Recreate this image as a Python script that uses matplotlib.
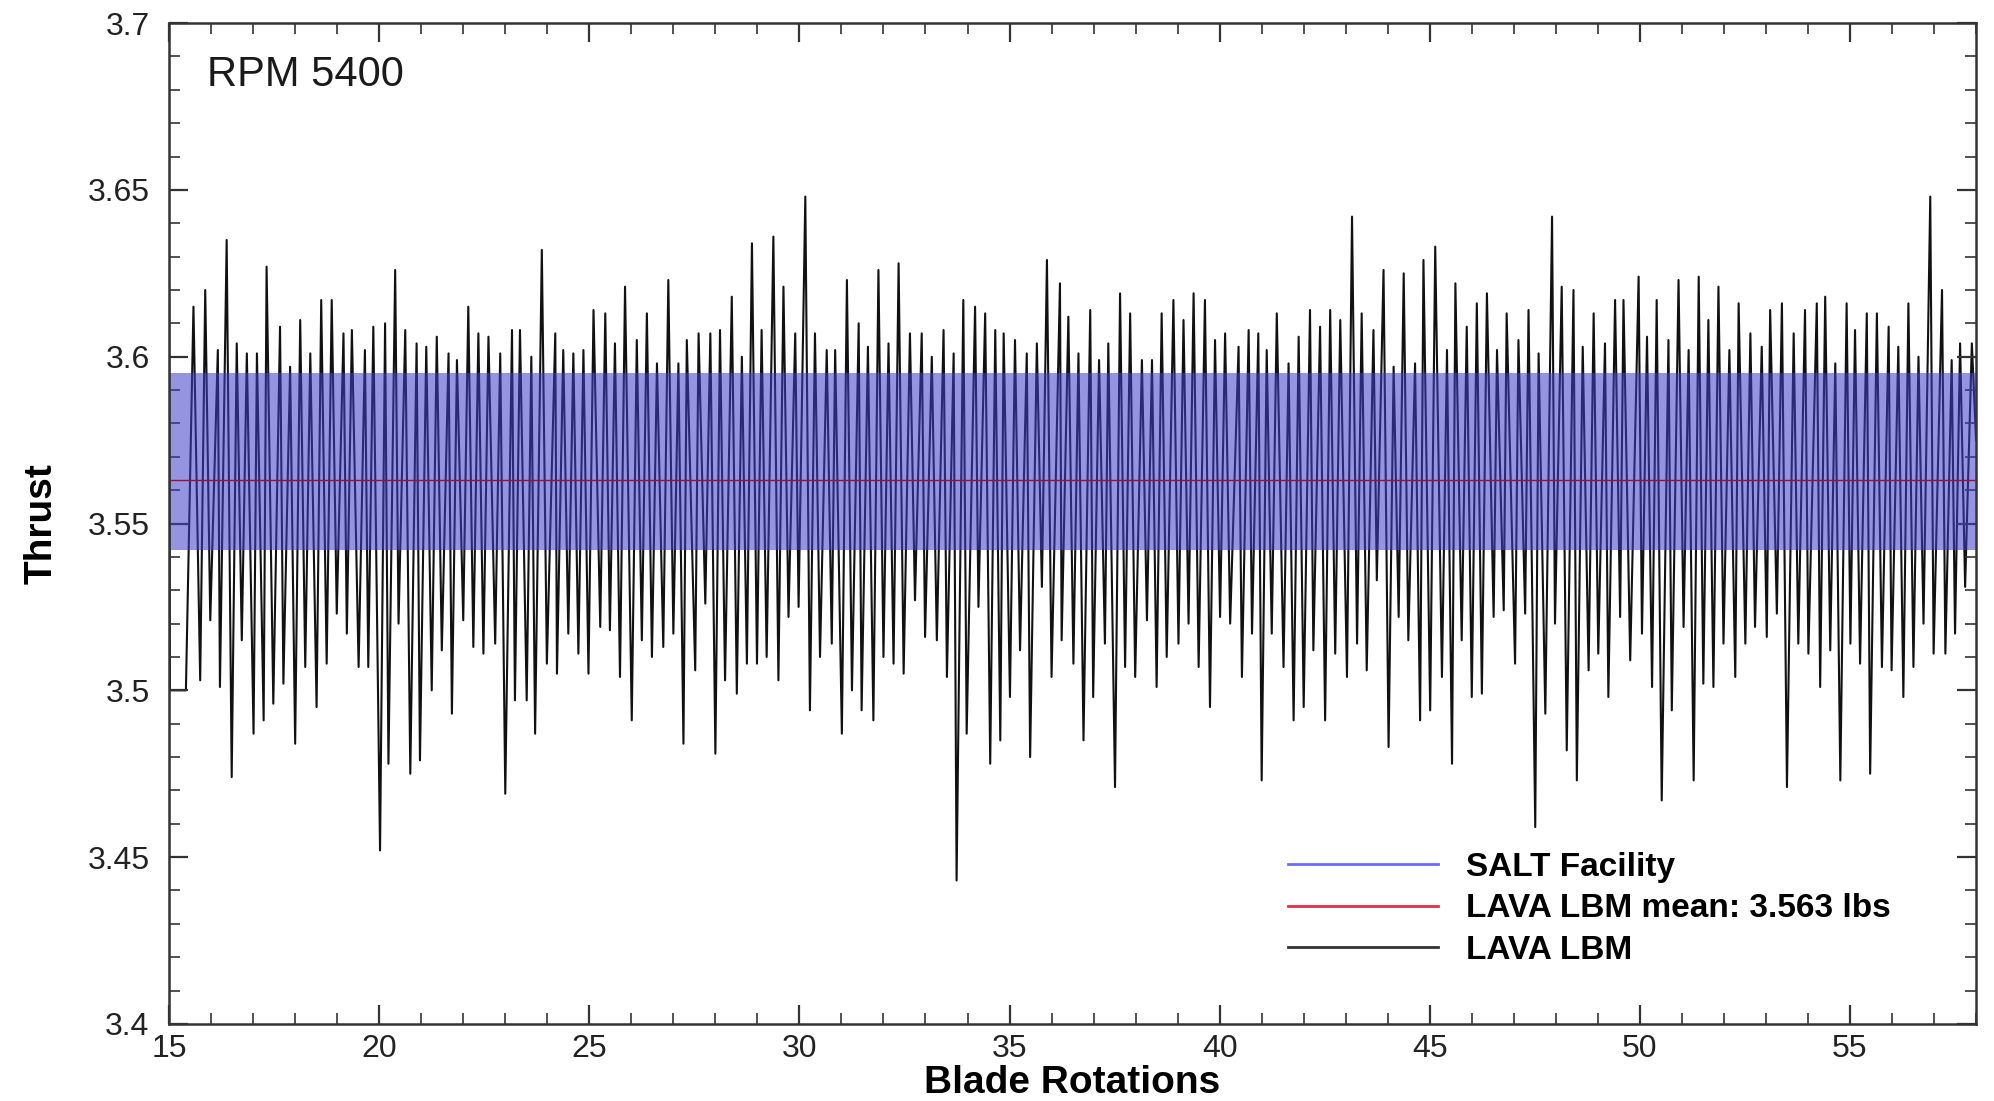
import numpy as np
import matplotlib
matplotlib.use('Agg')
import matplotlib.pyplot as plt
from matplotlib.lines import Line2D
from matplotlib.ticker import MultipleLocator, FormatStrFormatter

plt.rcParams['font.family'] = ['Liberation Sans', 'DejaVu Sans']

start_rot = [15.0, 15.02, 15.40]
start_thrust = [3.621, 3.500, 3.500]

peak_rot = [
    15.58, 15.86, 16.16, 16.37, 16.61, 16.85, 17.09, 17.32, 17.64, 17.88,
    18.12, 18.36, 18.62, 18.87, 19.15, 19.35, 19.66, 19.86, 20.14, 20.38,
    20.62, 20.89, 21.12, 21.37, 21.65, 21.85, 22.12, 22.36, 22.60, 22.88,
    23.16, 23.35, 23.62,
    23.87, 24.19, 24.38, 24.62, 24.86, 25.10, 25.38, 25.61, 25.85, 26.13, 26.37,
    26.61, 26.88, 27.12, 27.32, 27.60, 27.88, 28.11, 28.39, 28.63, 28.87,
    29.10, 29.38, 29.62, 29.90, 30.14, 30.37, 30.65, 30.85, 31.13, 31.41,
    31.63, 31.88, 32.12, 32.36,
    32.63, 32.91, 33.15, 33.43, 33.67, 33.90, 34.18, 34.42, 34.66, 34.86,
    35.13, 35.41, 35.65, 35.89, 36.20, 36.40, 36.64, 36.92, 37.13, 37.35,
    37.63, 37.87, 38.15, 38.39, 38.62, 38.90, 39.14, 39.38, 39.65, 39.89,
    40.13, 40.45, 40.69, 40.92,
    41.12, 41.36, 41.64, 41.88, 42.15, 42.39, 42.63, 42.87, 43.15, 43.38,
    43.66, 43.90, 44.14, 44.38, 44.65, 44.85, 45.13, 45.41, 45.61, 45.88,
    46.12, 46.36, 46.60, 46.83, 47.11, 47.35, 47.59, 47.91, 48.14, 48.42,
    48.64, 48.90, 49.17, 49.41, 49.61,
    49.97, 50.17, 50.40, 50.68, 50.92, 51.16, 51.40, 51.63, 51.87, 52.13,
    52.35, 52.63, 52.90, 53.10, 53.38, 53.66, 53.93, 54.21, 54.41, 54.65,
    54.92, 55.12, 55.40, 55.64, 55.92, 56.15, 56.39, 56.63, 56.91, 57.19,
    57.42, 57.62, 57.90,
]
peak_thrust = [
    3.615, 3.620, 3.602, 3.635, 3.604, 3.601, 3.601, 3.627, 3.609, 3.597,
    3.611, 3.601, 3.617, 3.617, 3.607, 3.608, 3.602, 3.609, 3.610, 3.626,
    3.608, 3.604, 3.603, 3.606, 3.601, 3.599, 3.615, 3.607, 3.606, 3.601,
    3.608, 3.608, 3.600,
    3.632, 3.607, 3.602, 3.601, 3.602, 3.614, 3.613, 3.604, 3.621, 3.605, 3.613,
    3.598, 3.623, 3.598, 3.605, 3.607, 3.607, 3.608, 3.618, 3.600, 3.634,
    3.608, 3.636, 3.621, 3.607, 3.648, 3.607, 3.602, 3.602, 3.623, 3.610,
    3.603, 3.626, 3.604, 3.628,
    3.607, 3.607, 3.600, 3.608, 3.601, 3.617, 3.615, 3.613, 3.608, 3.607,
    3.605, 3.601, 3.604, 3.629, 3.622, 3.612, 3.601, 3.614, 3.599, 3.604,
    3.619, 3.613, 3.599, 3.599, 3.613, 3.617, 3.611, 3.619, 3.617, 3.605,
    3.607, 3.603, 3.608, 3.607,
    3.602, 3.613, 3.598, 3.606, 3.614, 3.609, 3.614, 3.611, 3.642, 3.613,
    3.608, 3.626, 3.597, 3.625, 3.598, 3.629, 3.633, 3.602, 3.622, 3.609,
    3.616, 3.619, 3.602, 3.613, 3.605, 3.614, 3.601, 3.642, 3.621, 3.620,
    3.603, 3.613, 3.604, 3.617, 3.617,
    3.624, 3.606, 3.617, 3.605, 3.623, 3.602, 3.624, 3.611, 3.621, 3.602,
    3.616, 3.607, 3.603, 3.614, 3.616, 3.607, 3.614, 3.616, 3.618, 3.598,
    3.616, 3.608, 3.613, 3.613, 3.609, 3.603, 3.616, 3.600, 3.648, 3.620,
    3.599, 3.604, 3.604,
]

trough_rot = [
    15.74, 15.98, 16.21, 16.49, 16.73, 17.01, 17.25, 17.48, 17.72,
    18.00, 18.24, 18.51, 18.75, 18.99, 19.23, 19.51, 19.74, 20.02, 20.22,
    20.46, 20.74, 20.97, 21.25, 21.49, 21.73, 22.00, 22.24, 22.48, 22.76,
    23.00, 23.23, 23.51,
    23.71, 23.99, 24.23, 24.50, 24.74, 24.98, 25.26, 25.49, 25.73, 26.01,
    26.25, 26.49, 26.76, 27.00, 27.24, 27.52, 27.76, 28.00, 28.23, 28.51,
    28.75, 28.99, 29.22, 29.50, 29.74, 29.98, 30.25, 30.49, 30.77, 31.01,
    31.25, 31.48, 31.76, 32.00, 32.24,
    32.48, 32.75, 32.99, 33.27, 33.51, 33.74, 33.98, 34.26, 34.54, 34.78,
    35.01, 35.25, 35.49, 35.77, 36.00, 36.24, 36.52, 36.76, 36.99, 37.27,
    37.51, 37.75, 37.99, 38.27, 38.50, 38.74, 39.02, 39.26, 39.50, 39.77,
    40.01, 40.25, 40.53, 40.77, 41.00,
    41.24, 41.52, 41.76, 42.00, 42.23, 42.51, 42.75, 43.03, 43.27, 43.50,
    43.74, 44.02, 44.26, 44.49, 44.77, 45.01, 45.29, 45.53, 45.76, 46.00,
    46.24, 46.52, 46.76, 47.03, 47.27, 47.51, 47.75, 47.98, 48.26, 48.50,
    48.78, 49.01, 49.25, 49.53,
    49.77, 50.05, 50.29, 50.52, 50.76, 51.04, 51.28, 51.51, 51.75, 51.99,
    52.27, 52.51, 52.74, 53.02, 53.26, 53.50, 53.77, 54.01, 54.29, 54.53,
    54.77, 55.01, 55.24, 55.48, 55.76, 55.99, 56.27, 56.51, 56.75, 56.99,
    57.27, 57.50, 57.74,
]
trough_thrust = [
    3.503, 3.521, 3.501, 3.474, 3.515, 3.487, 3.491, 3.496, 3.502,
    3.484, 3.507, 3.495, 3.508, 3.523, 3.517, 3.507, 3.507, 3.452, 3.478,
    3.520, 3.475, 3.479, 3.500, 3.512, 3.493, 3.521, 3.513, 3.511, 3.514,
    3.469, 3.497, 3.497,
    3.487, 3.508, 3.505, 3.517, 3.511, 3.505, 3.519, 3.518, 3.504, 3.491,
    3.515, 3.510, 3.513, 3.517, 3.484, 3.506, 3.526, 3.481, 3.503, 3.499,
    3.508, 3.508, 3.510, 3.503, 3.522, 3.525, 3.494, 3.510, 3.514, 3.487,
    3.500, 3.494, 3.491, 3.510, 3.508,
    3.505, 3.527, 3.516, 3.515, 3.504, 3.443, 3.487, 3.525, 3.478, 3.485,
    3.498, 3.512, 3.480, 3.531, 3.504, 3.515, 3.508, 3.485, 3.498, 3.514,
    3.471, 3.507, 3.504, 3.521, 3.501, 3.510, 3.514, 3.520, 3.507, 3.495,
    3.522, 3.520, 3.504, 3.517, 3.473,
    3.517, 3.507, 3.491, 3.495, 3.512, 3.491, 3.511, 3.504, 3.514, 3.506,
    3.533, 3.483, 3.522, 3.515, 3.491, 3.494, 3.504, 3.478, 3.515, 3.498,
    3.499, 3.522, 3.524, 3.508, 3.523, 3.459, 3.493, 3.520, 3.482, 3.473,
    3.506, 3.511, 3.498, 3.522,
    3.509, 3.517, 3.501, 3.467, 3.494, 3.519, 3.473, 3.502, 3.501, 3.514,
    3.504, 3.514, 3.519, 3.516, 3.523, 3.471, 3.514, 3.511, 3.501, 3.512,
    3.473, 3.514, 3.508, 3.475, 3.507, 3.506, 3.498, 3.507, 3.520, 3.511,
    3.511, 3.517, 3.531,
]
end_rot = [58.0]
end_thrust = [3.575]

salt_low = 3.542
salt_high = 3.595
lava_mean = 3.563

x = np.array(start_rot + peak_rot + trough_rot + end_rot)
y = np.array(start_thrust + peak_thrust + trough_thrust + end_thrust)
order = np.argsort(x, kind='stable')
x = x[order]
y = y[order]

fig = plt.figure(figsize=(19.94, 11.01), dpi=100)
ax = fig.add_axes([0.0848, 0.070, 0.9062, 0.909])

ax.plot(x, y, color='#111111', lw=1.5, zorder=1)
ax.axhspan(salt_low, salt_high, facecolor=(0.24, 0.24, 0.78), alpha=0.55, lw=0, zorder=2)
ax.axhline(lava_mean, color='#9a1038', lw=1.0, zorder=3)

ax.set_xlim(15, 58)
ax.set_ylim(3.4, 3.7)
ax.xaxis.set_major_locator(MultipleLocator(5))
ax.xaxis.set_minor_locator(MultipleLocator(1))
ax.yaxis.set_major_locator(MultipleLocator(0.05))
ax.yaxis.set_minor_locator(MultipleLocator(0.01))
ax.yaxis.set_major_formatter(FormatStrFormatter('%g'))

for s in ax.spines.values():
    s.set_linewidth(1.8)
    s.set_color('#333333')
ax.tick_params(which='both', direction='in', top=True, right=True,
               colors='#333333', labelcolor='#222222')
ax.tick_params(which='major', length=14, width=1.6, labelsize=23)
ax.tick_params(which='minor', length=8, width=1.2)
ax.tick_params(axis='y', which='major', pad=14)
ax.tick_params(axis='x', which='major', pad=7)

ax.set_xlabel('Blade Rotations', fontsize=28, fontweight='bold', labelpad=1)
ax.set_ylabel('Thrust', fontsize=28, fontweight='bold', labelpad=20)

ax.text(0.021, 0.948, 'RPM 5400', transform=ax.transAxes, fontsize=30,
        ha='left', va='center', color='#1a1a1a')

handles = [Line2D([], [], color='#6a6aff', lw=2),
           Line2D([], [], color='#e0304a', lw=2),
           Line2D([], [], color='#333333', lw=2)]
labels = ['SALT Facility', 'LAVA LBM mean: 3.563 lbs', 'LAVA LBM']
ax.legend(handles, labels, loc='upper left', bbox_to_anchor=(0.619, 0.172),
          frameon=False, handlelength=4.5, handletextpad=0.85,
          labelspacing=0.32, borderpad=0, borderaxespad=0,
          prop={'size': 24, 'weight': 'bold'})

fig.savefig('out.png', dpi=100)
